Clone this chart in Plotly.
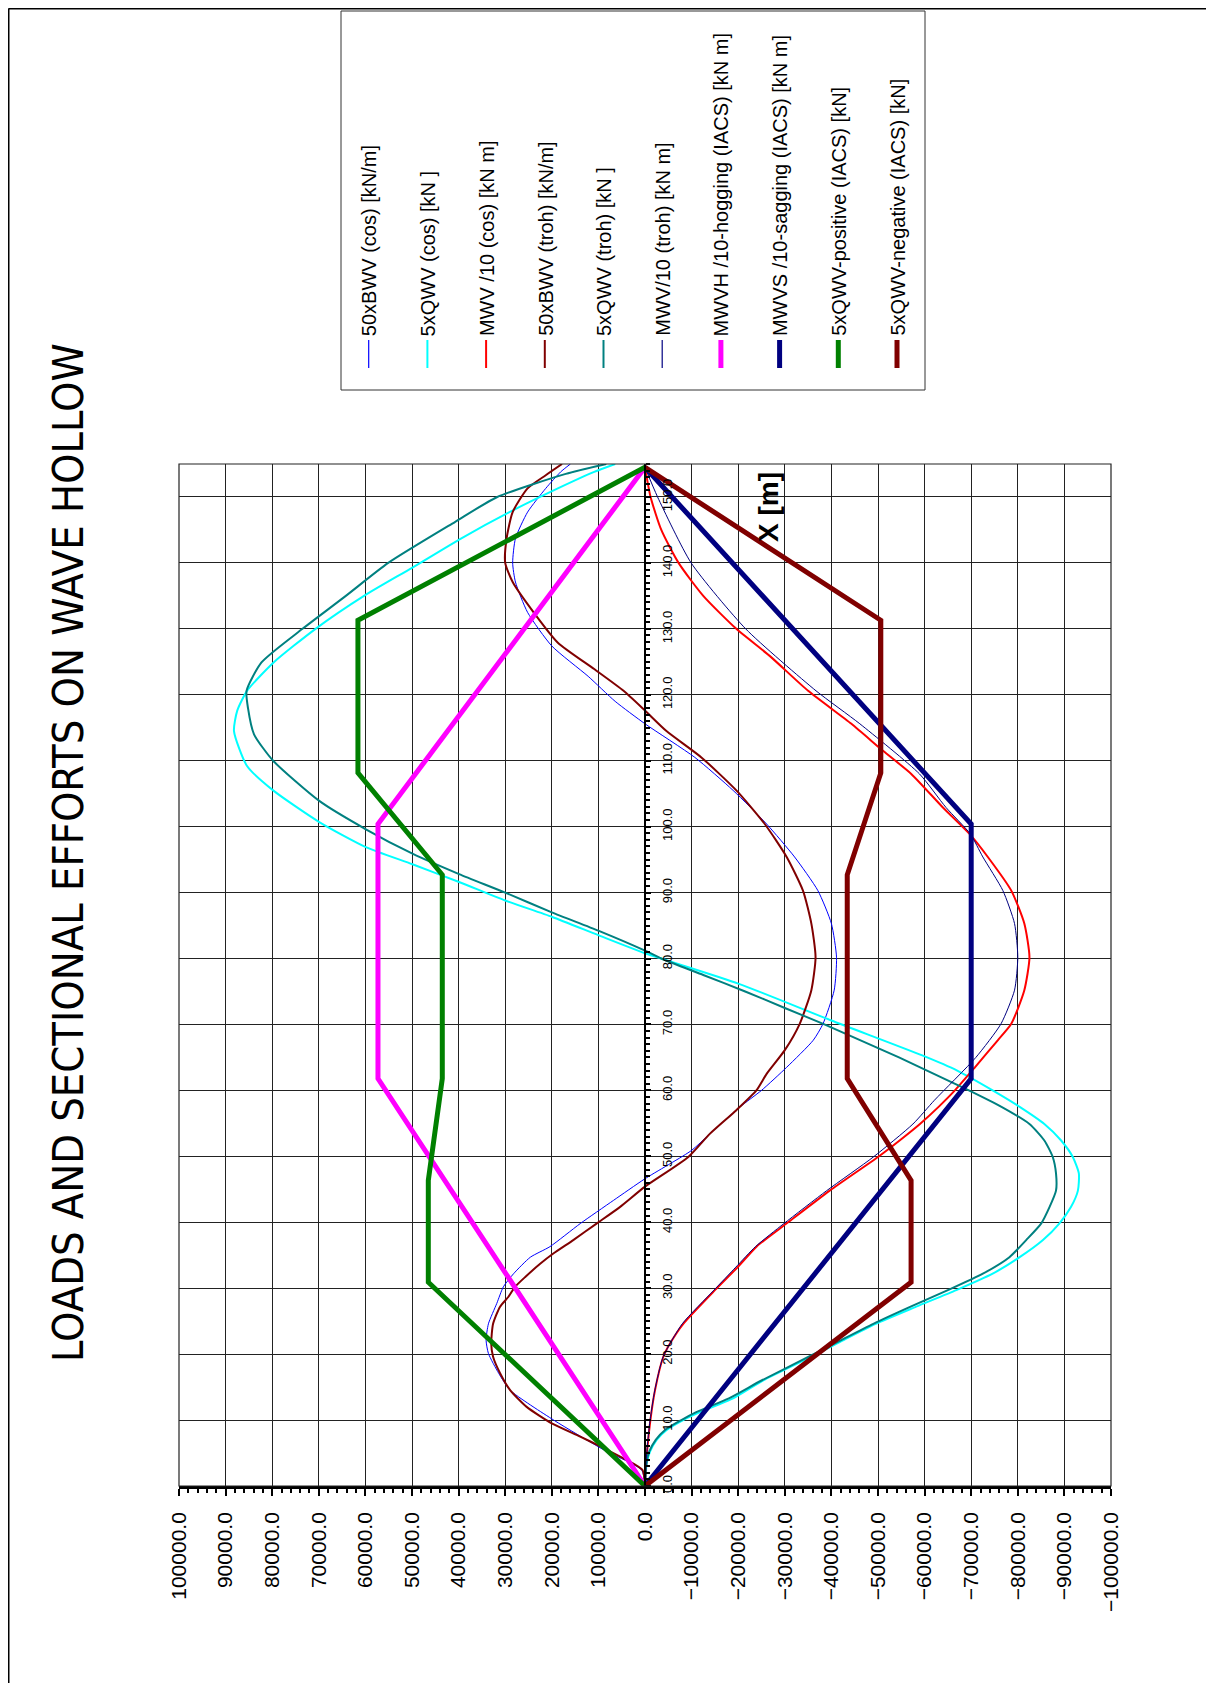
import plotly.graph_objects as go

# ---- data: X position along ship [m] and values ----
# IACS envelopes (piecewise linear)
x_mom = [0.0, 61.8, 100.4, 154.5]
mwvh = [0, 57300, 57300, 0]
mwvs = [0, -70000, -70000, 0]

x_shear = [0.0, 30.9, 46.35, 61.8, 92.7, 108.15, 131.3, 154.5]
qwv_pos = [0, 46500, 46500, 43500, 43500, 61600, 61600, 0]
qwv_neg = [0, -57100, -57100, -43400, -43400, -50600, -50600, 0]

# 50xBWV (cos)
x_bwv_cos = [0, 2.4, 5.5, 10, 14.5, 17.1, 20.1, 22.1, 24.6, 27.7, 30.2, 32.2, 34.7, 36.3, 39.8,
             43.3, 46.6, 50.9, 53.4, 57.5, 60, 63.5, 67.6, 70.1, 75.2, 80.2, 85.3, 90.3, 95.4,
             100.4, 105.5, 110.5, 115.6, 119, 122.8, 127.4, 132.5, 137.1, 140, 143.7, 147.7,
             151.3, 153.8, 155]
bwv_cos = [0, 700, 8900, 19600, 28900, 31400, 33600, 34100, 33600, 31800, 30400, 28200, 24600,
           20400, 13900, 6800, 0, -10000, -13900, -20400, -25000, -30400, -36100, -38200, -40600,
           -41100, -40000, -37100, -32100, -26100, -18900, -10700, 0, 6400, 12200, 20000, 25200,
           27800, 28400, 27800, 25200, 21300, 18100, 16000]

# 5xQWV (cos)
x_qwv_cos = [0, 3.4, 5.2, 7, 8.5, 10, 11.2, 13.3, 16, 20.1, 22.1, 24.6, 27.2, 29.7, 32.2, 34.7,
             37.3, 39.8, 42.3, 44.8, 47.4, 49.9, 52.4, 54.9, 57.5, 60, 63, 65.3, 70.6, 76.2, 80.8,
             83.5, 86.3, 88.8, 91.6, 94.3, 96.9, 100.7, 105.5, 109.2, 114.5, 117.6, 120.6, 124.9,
             130, 135, 139.3, 143.7, 147.7, 151.3, 153.8, 155]
qwv_cos = [0, -360, -1070, -2500, -4650, -8200, -11800, -18900, -25300, -37100, -42500, -49500,
           -58200, -66800, -74600, -80400, -85400, -88900, -91400, -92900, -93100, -91800, -89300,
           -85700, -80400, -74600, -67000, -59500, -40000, -20000, 0, 9900, 19900, 30000, 39900,
           49900, 59900, 69900, 79800, 85400, 88200, 87500, 85400, 79700, 70700, 60300, 49900,
           39500, 29100, 18700, 10900, 6400]

# MWV/10 (cos)
x_mwv_cos = [0, 4.4, 9.5, 14.5, 19.6, 21.6, 24.6, 29.7, 33.2, 36.3, 39.8, 44.8, 49.9, 52.4, 54.9,
             57.5, 60, 63.5, 67.6, 70.1, 75.2, 80.2, 85.3, 90.3, 95.4, 98.9, 102.9, 108, 111.5,
             115.6, 120.6, 125.9, 130, 135, 140, 145, 150, 154.5]
mwv_cos = [0, -360, -1070, -2140, -3930, -5360, -8210, -15000, -19900, -23930, -30360, -39640,
           -50000, -54640, -59000, -63000, -66500, -70800, -75700, -78600, -81400, -82500, -81400,
           -78600, -73570, -69640, -63930, -57140, -51070, -44290, -35000, -26750, -19600, -12500,
           -7200, -3500, -1200, 0]

# 50xBWV (troh)
x_bwv_troh = [0, 2.4, 3.4, 6, 7.5, 9.5, 12, 14.5, 17.1, 19.6, 21.6, 24.6, 27.2, 28.7, 30.2, 31.7,
              33.7, 35.3, 37.3, 39.8, 42.3, 45.4, 49.9, 53.4, 57, 60, 62.5, 66.1, 70.1, 75.2, 80.2,
              85.3, 90.3, 95.4, 100.4, 105.5, 110.5, 114.5, 117.6, 120.6, 123.9, 127.9, 132.5,
              137.1, 140, 143.7, 147.7, 151.3, 153.3, 155]
bwv_troh = [0, 500, 2500, 9600, 13900, 20000, 25400, 28900, 31100, 32600, 33000, 32600, 31100,
            29300, 27900, 25700, 22500, 19600, 15400, 10400, 5400, 0, -9300, -13900, -19600,
            -23900, -26100, -30000, -33200, -35700, -36600, -35700, -33900, -30400, -25700,
            -19600, -12100, -4600, 0, 4600, 10900, 18700, 23900, 28400, 30000, 29700, 28400,
            25200, 21300, 17800]

# 5xQWV (troh)
x_qwv_troh = [0, 3.4, 5.2, 7, 8.5, 10, 11.2, 13.3, 16, 20.1, 22.1, 24.6, 27.2, 29.7, 32.2, 34.7,
              37.3, 39.8, 42.3, 44.8, 47.4, 49.9, 52.4, 54.9, 57.5, 60, 62.5, 65, 67.5, 70, 72.5,
              75, 77.5, 80, 81.2, 84.2, 87, 90, 92.8, 95.9, 99.6, 103.9, 110, 114, 118, 120.6,
              124.9, 130, 135, 140, 146.2, 150, 153.5, 155]
qwv_troh = [0, -300, -900, -2300, -4300, -7800, -11000, -18000, -25000, -36500, -42000, -49000,
            -57000, -65000, -72500, -78200, -81800, -85000, -86800, -88200, -88200, -87500,
            -85700, -82500, -76500, -69500, -62000, -54500, -46500, -38500, -30000, -21500,
            -12500, -3500, 0, 9900, 20000, 30000, 39900, 49900, 59900, 69900, 79800, 83900,
            85200, 85500, 82300, 73500, 64200, 55100, 40800, 31700, 17000, 8300]

# MWV/10 (troh)
x_mwv_troh = [0, 4.4, 9.5, 14.5, 19.6, 24.6, 29.7, 33.2, 36.3, 39.8, 44.8, 49.9, 54.9, 58.5, 65,
              70.1, 75.2, 80.2, 85.3, 90.3, 95.4, 98.9, 102.9, 108, 115.6, 120.6, 130, 140, 150,
              154.5]
mwv_troh = [0, -300, -1000, -2100, -3900, -8000, -14800, -19500, -23700, -29800, -39000, -49000,
            -57500, -62100, -71000, -76400, -79300, -80000, -79300, -76800, -72500, -69800,
            -64600, -58900, -46100, -36700, -21600, -9900, -2700, 0]

legend_names = ["50xBWV (cos) [kN/m]", "5xQWV (cos) [kN ]", "MWV /10 (cos) [kN m]",
                "50xBWV (troh) [kN/m]", "5xQWV (troh) [kN ]", "MWV/10 (troh) [kN m]",
                "MWVH /10-hogging (IACS) [kN m]", "MWVS /10-sagging (IACS) [kN m]",
                "5xQWV-positive (IACS) [kN]", "5xQWV-negative (IACS) [kN]"]
colors = ["#0000FF", "#00FFFF", "#FF0000", "#800000", "#008080", "#000080",
          "#FF00FF", "#000080", "#008000", "#800000"]
widths = [1, 2, 2, 2, 2, 1, 5, 5, 5, 5]

series = [(x_bwv_cos, bwv_cos), (x_qwv_cos, qwv_cos), (x_mwv_cos, mwv_cos),
          (x_bwv_troh, bwv_troh), (x_qwv_troh, qwv_troh), (x_mwv_troh, mwv_troh),
          (x_mom, mwvh), (x_mom, mwvs), (x_shear, qwv_pos), (x_shear, qwv_neg)]

# page body has an 8px margin, so the figure is made 8px smaller and all
# screen positions below are shifted by that offset
OFF = 8
W, H = 1214 - OFF, 1683 - OFF
ML, MR, MT, MB = 171, 103, 456, 197
PW, PH = W - ML - MR, H - MT - MB


def px_x(px):
    return (px - OFF - ML) / PW


def px_y(py):
    return (H - MB - (py - OFF)) / PH


FONT = "Liberation Sans, Arial, sans-serif"

fig = go.Figure()
for i, (xs, vals) in enumerate(series):
    curved = i < 6
    fig.add_trace(go.Scatter(
        x=vals, y=xs, mode="lines", name=legend_names[i],
        line=dict(color=colors[i], width=widths[i],
                  shape="spline" if curved else "linear", smoothing=0.6 if curved else None),
        showlegend=False, cliponaxis=True,
    ))

fig.update_xaxes(
    range=[100000, -100000], tickmode="linear", tick0=0, dtick=10000, tickformat=".1f",
    tickangle=-90, tickfont=dict(family=FONT, size=21, color="black"),
    showgrid=True, gridcolor="#222", gridwidth=1, zeroline=False,
    showline=True, linecolor="black", linewidth=2.5, mirror=False,
    ticks="outside", ticklen=7, tickwidth=1.5, tickcolor="black", ticklabelstandoff=8,
    minor=dict(dtick=2000, ticks="outside", ticklen=4, tickwidth=1.5, tickcolor="black", showgrid=False),
    domain=[0, 1],
)
fig.update_yaxes(
    range=[0, 155], tickmode="linear", tick0=0, dtick=10, tickformat=".1f",
    tickangle=-90, tickfont=dict(family=FONT, size=13, color="black"),
    showgrid=True, gridcolor="#222", gridwidth=1, zeroline=False,
    anchor="free", position=0.5, side="right",
    showline=True, linecolor="black", linewidth=1.5,
    ticks="outside", ticklen=5, tickwidth=1.5, tickcolor="black", ticklabelstandoff=6,
    minor=dict(dtick=1, ticks="outside", ticklen=4, tickwidth=2, tickcolor="black", showgrid=False),
)

shapes = [
    # plot frame
    dict(type="rect", xref="paper", yref="paper", x0=0, y0=0, x1=1, y1=1,
         line=dict(color="#222", width=1.2)),
    # page border
    dict(type="line", xref="paper", yref="paper", x0=px_x(8.5), x1=px_x(1214), y0=px_y(8.5), y1=px_y(8.5),
         line=dict(color="black", width=2)),
    dict(type="line", xref="paper", yref="paper", x0=px_x(8.5), x1=px_x(8.5), y0=px_y(8.5), y1=px_y(1683),
         line=dict(color="black", width=2)),
    # legend box
    dict(type="rect", xref="paper", yref="paper", x0=px_x(341), x1=px_x(925), y0=px_y(390), y1=px_y(11),
         line=dict(color="#333", width=1), fillcolor="white"),
]
annotations = [
    dict(text="LOADS AND SECTIONAL EFFORTS ON WAVE HOLLOW", textangle=-90,
         xref="paper", yref="paper", x=px_x(68), y=px_y(853), xanchor="center", yanchor="middle",
         showarrow=False, font=dict(family="Liberation Sans Narrow, DejaVu Sans Condensed, sans-serif",
                                    size=43, color="black")),
    dict(text="<b>X [m]</b>", textangle=-90, xref="paper", yref="paper",
         x=px_x(768), y=px_y(507), xanchor="center", yanchor="middle", showarrow=False,
         font=dict(family=FONT, size=28, color="black")),
]
for i, name in enumerate(legend_names):
    cx = 368.7 + i * 58.7
    shapes.append(dict(type="line", xref="paper", yref="paper", x0=px_x(cx), x1=px_x(cx),
                       y0=px_y(340), y1=px_y(368),
                       line=dict(color=colors[i], width=widths[i] if widths[i] > 1 else 1.2)))
    annotations.append(dict(text=name, textangle=-90, xref="paper", yref="paper",
                            x=px_x(cx + 1), y=px_y(338), xanchor="center", yanchor="bottom",
                            showarrow=False, font=dict(family=FONT, size=20, color="black")))

fig.update_layout(
    width=W, height=H, margin=dict(l=ML, r=MR, t=MT, b=MB, autoexpand=False),
    paper_bgcolor="white", plot_bgcolor="white",
    shapes=shapes, annotations=annotations, showlegend=False,
)

fig.write_html("out.html")
